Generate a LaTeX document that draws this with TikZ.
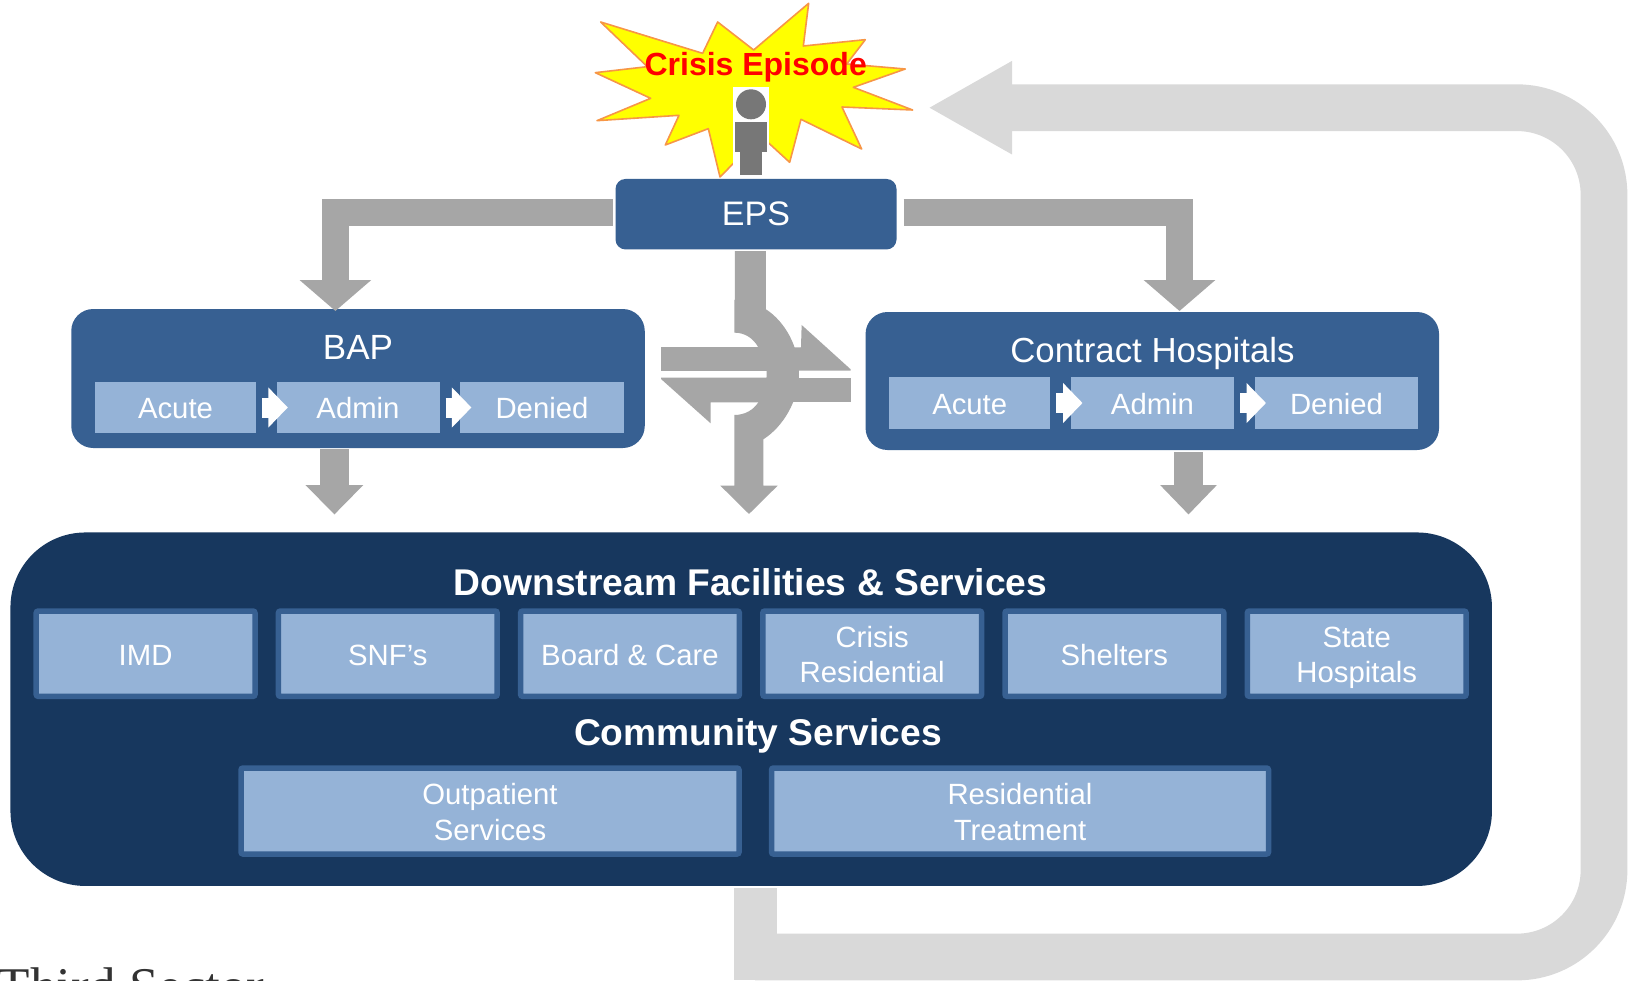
\documentclass[tikz,border=0pt]{standalone}
\usepackage{fontspec}
\setmainfont{Liberation Sans}
\newfontfamily\thirdfont{Liberation Serif}
\usetikzlibrary{arrows.meta}
\definecolor{midblue}{HTML}{376092}
\definecolor{navy}{HTML}{17375E}
\definecolor{paleblue}{HTML}{95B3D7}
\definecolor{arrowgray}{HTML}{A6A6A6}
\definecolor{loopgray}{HTML}{D9D9D9}
\definecolor{burstline}{HTML}{F79646}
\definecolor{persongray}{HTML}{777777}
\definecolor{burstfill}{HTML}{FFFF00}
\definecolor{crisisred}{HTML}{FF0000}
\newcommand{\capline}{\rule{0pt}{23pt}}
\newcommand{\nodepth}[1]{\raisebox{0pt}[\height][0pt]{#1}}
\tikzset{
  x=1pt,y=-1pt,
  every node/.style={inner sep=0pt,outer sep=0pt,text=white,align=center},
  panel/.style={fill=midblue,rounded corners=22pt},
  subbox/.style={fill=paleblue,font=\fontsize{29.3}{35.5}\selectfont,minimum width=161pt,minimum height=51pt},
  svcbox/.style={fill=paleblue,draw=midblue,line width=5.5pt,rounded corners=2pt,font=\fontsize{29.3}{35.5}\selectfont,minimum height=85.3pt},
  paneltitle/.style={font=\fontsize{35}{40}\selectfont},
  boldtitle/.style={font=\bfseries\fontsize{37.2}{42}\selectfont},
  blockarrow/.style={draw=arrowgray,line width=#1},
  loopline/.style={draw=loopgray,line width=46.7pt},
  smallarrow/.style={draw=white,line width=20pt,-{Triangle[length=19.5pt,width=39pt,fill=white]}},
}
\begin{document}
\begin{tikzpicture}
\useasboundingbox (0,0) rectangle (1637,980);
\clip (0,0) rectangle (1637,980);
\fill[white] (0,0) rectangle (1637,980);

% burst
\begin{scope}[shift={(560,0)},x=0.3333pt,y=-0.3333pt]
\filldraw[fill=burstfill,draw=burstline,line width=1.6pt,line join=round]
 (122,66)--(428,160)--(473,66)--(581,150)--(746,10)--(730,138)--(916,119)--(860,192)--(1036,207)--(880,262)--(1058,330)--(846,321)--(905,447)--(723,358)--(689,487)--(627,430)--(560,450)--(480,531)--(445,386)--(316,435)--(357,346)--(111,362)--(272,295)--(106,218)--(262,200)--cycle;
\end{scope}
\node (crisis) at (755.7,67) {\textcolor{crisisred}{\bfseries\fontsize{32}{36}\selectfont Crisis Episode}};
% person
\fill[white] (733.3,87.3) rectangle (769,176);
\fill[persongray] (751,104.3) circle[radius=15];
\fill[persongray] (734.7,122) rectangle (767.3,151.7);
\fill[persongray] (740,151.7) rectangle (762,175.3);

% main boxes
\node[panel,minimum width=281pt,minimum height=70.5pt,rounded corners=10pt,fill=midblue,font=\fontsize{34}{40}\selectfont] (eps) at (756,214.2) {EPS};
\node[panel,minimum width=573.5pt,minimum height=139pt] (bap) at (358,378.5) {};
\node[panel,minimum width=573.5pt,minimum height=138pt] (contract) at (1152.3,381) {};
\node[paneltitle] (baptitle) at (358,347) {BAP};
\node[paneltitle,font=\fontsize{34.8}{40}\selectfont] (contracttitle) at (1152.5,353) {Contract Hospitals};

% BAP row
\node[subbox] (bacute) at (175.5,407.5) {\capline Acute};
\node[subbox,minimum width=163pt] (badmin) at (358,407.5) {\capline Admin};
\node[subbox,minimum width=164pt] (bdenied) at (542,407.5) {\capline Denied};
\draw[smallarrow] ([xshift=6pt]bacute.east) -- ([xshift=11.3pt]badmin.west);
\draw[smallarrow] ([xshift=6pt]badmin.east) -- ([xshift=11.4pt]bdenied.west);
% Contract row
\node[subbox,minimum height=52pt] (cacute) at (969.7,403) {\capline Acute};
\node[subbox,minimum width=163pt,minimum height=52pt] (cadmin) at (1152.5,403) {\capline Admin};
\node[subbox,minimum width=163pt,minimum height=52pt] (cdenied) at (1336.5,403) {\capline Denied};
\draw[smallarrow] ([xshift=6pt]cacute.east) -- ([xshift=11.5pt]cadmin.west);
\draw[smallarrow] ([xshift=6pt]cadmin.east) -- ([xshift=11pt]cdenied.west);

% downstream panel
\node[fill=navy,rounded corners=75pt,minimum width=1481.5pt,minimum height=353.5pt] (down) at (751.2,709.2) {};
\node[boldtitle] (dtitle) at (750.6,582) {Downstream Facilities \& Services};
\node[boldtitle] (ctitle) at (758,736) {Community Services};
\node[svcbox,minimum width=218.8pt] (imd) at (145.6,653.7) {\capline IMD};
\node[svcbox,minimum width=218.8pt] (snf) at (387.8,653.7) {\capline SNF’s};
\node[svcbox,minimum width=218.8pt] (board) at (630,653.7) {\capline Board \& Care};
\node[svcbox,minimum width=218.8pt] (cres) at (872.2,653.7) {\capline Crisis\\Residential};
\node[svcbox,minimum width=218.8pt] (shelters) at (1114.4,653.7) {\capline Shelters};
\node[svcbox,minimum width=218.8pt] (state) at (1356.7,653.7) {\capline State\\\nodepth{Hospitals}};
\node[svcbox,minimum width=498pt,minimum height=86pt] (out) at (490,811) {\capline Outpatient\\Services};
\node[svcbox,minimum width=497pt,minimum height=86pt] (rtreat) at (1020,811) {\capline Residential\\Treatment};

% grey connectors
\coordinate (bapin) at (336,311);
\coordinate (conin) at (1180,311);
\draw[blockarrow=27pt,-{Triangle[length=31pt,width=70pt,fill=arrowgray]}] ([xshift=-3pt,yshift=1.8pt]eps.west) -| ([xshift=-0.6pt]bapin);
\draw[blockarrow=27pt,-{Triangle[length=31pt,width=70pt,fill=arrowgray]}] ([xshift=7pt,yshift=1.8pt]eps.east) -| ([xshift=-0.5pt]conin);
\coordinate (bapout) at (334.4,449);
\coordinate (bapdown) at (334.4,514.5);
\coordinate (conout) at (1188.5,452);
\coordinate (condown) at (1188.5,514.5);
\draw[blockarrow=28.5pt,-{Triangle[length=29.5pt,width=56pt,fill=arrowgray]}] (bapout) -- (bapdown);
\draw[blockarrow=28.5pt,-{Triangle[length=29.5pt,width=55pt,fill=arrowgray]}] (conout) -- (condown);

% central crossing
\begin{scope}[shift={(620,240)},x=0.3333pt,y=-0.3333pt]
\fill[arrowgray] (123,322)--(450,322)--(450,392)--(123,392)--cycle;
\fill[arrowgray] (500,322)--(543,322)--(545,255)--(692,388)--(692,392)--(500,392)--cycle;
\fill[arrowgray] (693,413)--(693,487)--(480,487)--(480,413)--cycle;
\fill[arrowgray] (450,413)--(123,413)--(123,417)--(272,550)--(272,487)--(450,487)--cycle;
\fill[arrowgray] (345,33)--(438,33)--(438,208)
  .. controls (495,245) and (537,320) .. (537,400)
  .. controls (537,480) and (490,560) .. (430,598)
  --(430,737)--(473,737)--(387,822)--(301,737)--(343,737)--(343,525)
  .. controls (375,525) and (400,510) .. (415,487)
  .. controls (432,460) and (440,430) .. (440,400)
  .. controls (440,370) and (432,345) .. (415,322)
  .. controls (400,295) and (375,278) .. (343,278)
  --(343,180)--(345,180)--cycle;
\end{scope}

% feedback loop
\coordinate (loopstart) at (755.5,888);
\coordinate (loopfoot) at (755.5,980);
\coordinate (looplow) at (755,957);
\coordinate (loopcorner) at (1604,957);
\coordinate (looptop) at (1604,107.7);
\coordinate (looptip) at (928,107.7);
\draw[draw=loopgray,line width=43pt] (loopstart) -- (loopfoot);
\draw[loopline,rounded corners=87pt,-{Triangle[length=84pt,width=87pt,fill=loopgray]}] (looplow) -- (loopcorner) -- (looptop) -- (looptip);

% cropped running text
\node[text=black!80,anchor=base west,font=\thirdfont\fontsize{53}{56}\selectfont] (third) at (-2,1004) {Third Sector};
\end{tikzpicture}
\end{document}
